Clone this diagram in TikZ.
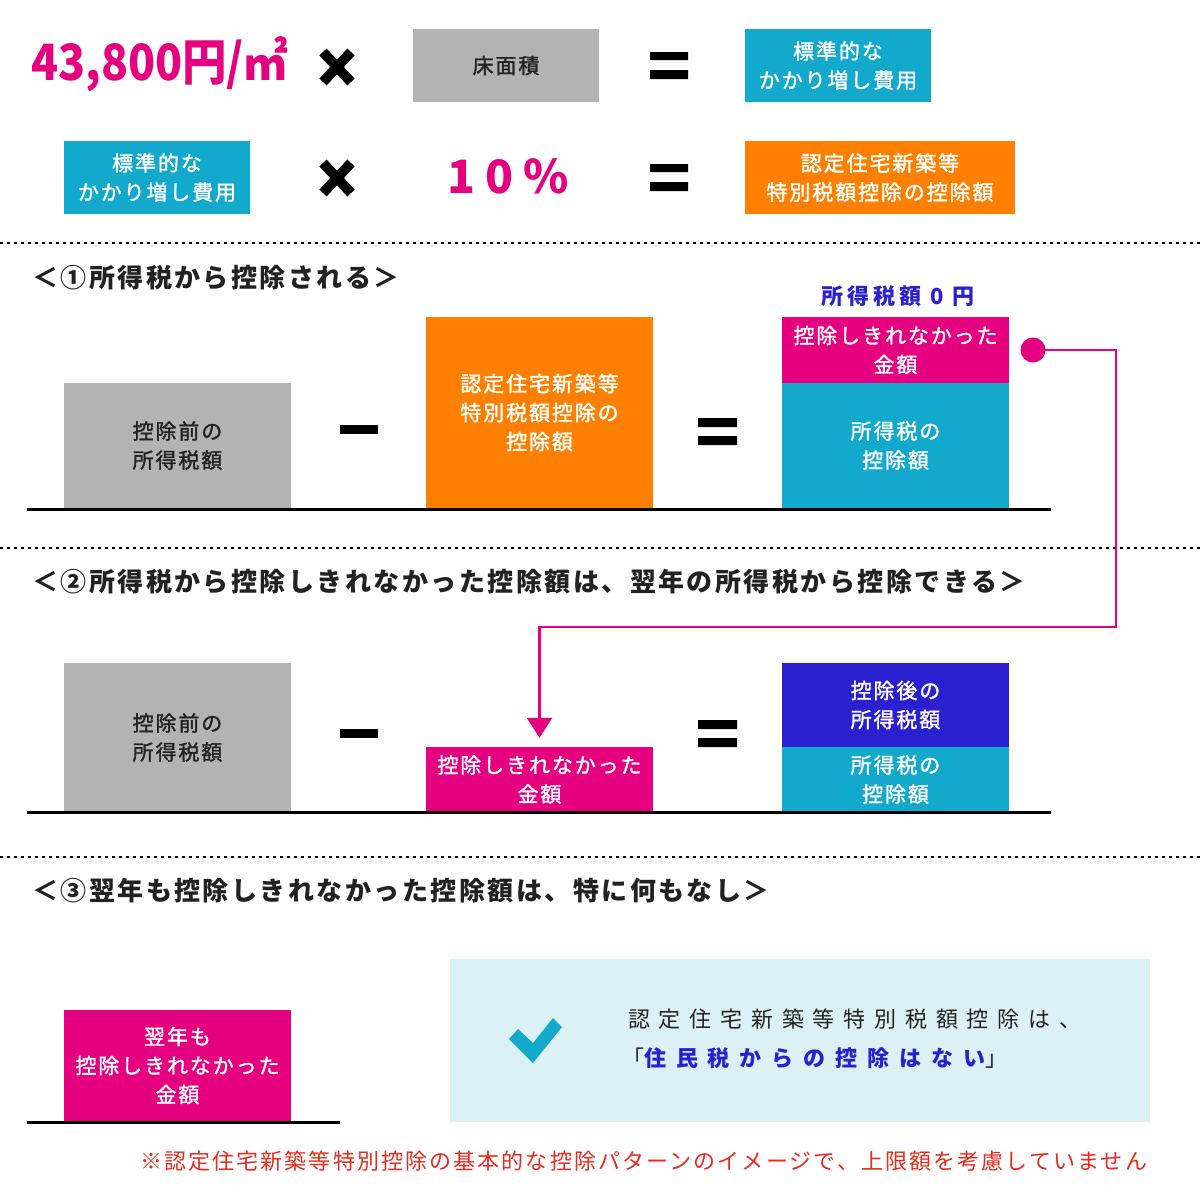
\documentclass[tikz,border=0pt]{standalone}
\usepackage{fontspec}
\usepackage{graphicx}
\setmainfont{Noto Sans CJK JP}
\newfontfamily\jpA[LetterSpace=9,UprightFeatures={FakeBold=1.5}]{Noto Sans CJK JP}
\newfontfamily\jpZ[LetterSpace=22]{Noto Sans CJK JP}
\newfontfamily\jpP[LetterSpace=18]{Noto Sans CJK JP}
\newfontfamily\jpB[LetterSpace=40]{Noto Sans CJK JP}
\newfontfamily\jpD[LetterSpace=45]{Noto Sans CJK JP}
\newfontfamily\jpC[LetterSpace=9.5]{Noto Sans CJK JP}
\newfontfamily\jpF[LetterSpace=9.6]{Noto Sans CJK JP}
\usetikzlibrary{arrows.meta}
\definecolor{mag}{HTML}{E4007F}
\definecolor{cy}{HTML}{12A9CC}
\definecolor{org}{HTML}{FF8000}
\definecolor{gr}{HTML}{B3B3B3}
\definecolor{bl}{HTML}{2B20D0}
\definecolor{lb}{HTML}{DCF1F6}
\definecolor{dk}{HTML}{222222}
\definecolor{rd}{HTML}{EA2A1E}
\tikzset{
  box/.style={inner sep=0pt,draw=none,align=center,text=white,
    font=\jpA\fontsize{21}{29}\selectfont},
  graybox/.style={box,fill=gr,text=dk},
  bar/.style={fill=black,draw=none},
  title/.style={anchor=west,inner sep=0pt,text=dk,font=\jpC\bfseries\fontsize{26}{30}\selectfont},
  baseline/.style={line width=3pt,black},
  sep/.style={line width=2.5pt,dash pattern=on 2.5pt off 4.5pt,black},
  flow/.style={line width=2.5pt,mag}
}
\begin{document}
\begin{tikzpicture}[x=1pt,y=-1pt]
\useasboundingbox (0,0) rectangle (1200,1200);
\fill[white] (0,0) rectangle (1200,1200);

% formula row 1
\node[anchor=west,inner sep=0pt,text=mag,font=\bfseries\fontsize{50}{50}\selectfont] (price) at (31,64) {\scalebox{0.89}[1]{43,800円/㎡}};
\draw[line width=10pt] (323,52) -- (351,82) (351,52) -- (323,82);
\node[graybox,minimum width=186pt,minimum height=73pt] (floor) at (506,65.5) {床面積};
\fill[bar] (650,52) rectangle (688,60) (650,70) rectangle (688,79);
\node[box,fill=cy,minimum width=186pt,minimum height=73pt] (std1) at (838,65.5) {標準的な\\かかり増し費用};

% formula row 2
\node[box,fill=cy,minimum width=186pt,minimum height=73pt] (std2) at (157,177.5) {標準的な\\かかり増し費用};
\draw[line width=10pt] (323,163) -- (351,193) (351,163) -- (323,193);
\node[inner sep=0pt,text=mag,font=\jpZ\bfseries\fontsize{46}{46}\selectfont] (pct) at (508,176) {10\%};
\fill[bar] (650,164) rectangle (688,172) (650,182) rectangle (688,191);
\node[box,fill=org,minimum width=270pt,minimum height=73pt] (cert) at (880,177.5) {認定住宅新築等\\特別税額控除の控除額};

\draw[sep] (0,243) -- (1200,243);

% section 1
\node[title] (t1) at (32,278) {＜①所得税から控除される＞};
\node[graybox,minimum width=227pt,minimum height=125pt] (g1) at (177.5,445.5) {控除前の\\所得税額};
\fill[bar] (340,425) rectangle (378,434);
\node[box,fill=org,minimum width=227pt,minimum height=191pt] (o1) at (539.5,412.5) {認定住宅新築等\\特別税額控除の\\控除額};
\fill[bar] (698,418) rectangle (737,427) (698,436) rectangle (737,445);
\node[box,fill=mag,minimum width=227pt,minimum height=66pt] (m1) at (895.5,350) {控除しきれなかった\\金額};
\node[box,fill=cy,minimum width=227pt,minimum height=125pt] (c1) at (895.5,445.5) {所得税の\\控除額};
\node[inner sep=0pt,text=bl,font=\jpP\bfseries\fontsize{22}{24}\selectfont] (zero) at (898,296) {所得税額 0 円};
\draw[baseline] (27,509) -- (1051,509);

\draw[sep] (0,548) -- (1200,548);

% section 2
\node[title] (t2) at (32,582) {＜②所得税から控除しきれなかった控除額は、翌年の所得税から控除できる＞};
\node[graybox,minimum width=227pt,minimum height=149pt] (g2) at (177.5,737.5) {控除前の\\所得税額};
\fill[bar] (340,729) rectangle (378,738);
\node[box,fill=mag,minimum width=227pt,minimum height=65pt] (m2) at (539.5,779.5) {控除しきれなかった\\金額};
\fill[bar] (698,720) rectangle (737,729) (698,738) rectangle (737,747);
\node[box,fill=bl,minimum width=227pt,minimum height=84pt] (b2) at (895.5,705) {控除後の\\所得税額};
\node[box,fill=cy,minimum width=227pt,minimum height=65pt] (c2) at (895.5,779.5) {所得税の\\控除額};
\draw[baseline] (27,812) -- (1051,812);

% connector
\node[circle,fill=mag,inner sep=0pt,minimum size=25pt] (dot) at (1033,350) {};
\coordinate (k1) at (1116,350);
\coordinate (k2) at (1116,627);
\draw[flow,-{Triangle[width=25pt,length=20pt]},shorten >=9pt] (dot.center) -- (k1) -- (k2) -| (m2.north);

\draw[sep] (0,857) -- (1200,857);

% section 3
\node[title] (t3) at (32,891) {＜③翌年も控除しきれなかった控除額は、特に何もなし＞};
\node[box,fill=mag,minimum width=227pt,minimum height=111pt] (m3) at (177.5,1065.5) {翌年も\\控除しきれなかった\\金額};
\draw[baseline] (27,1122) -- (340,1122);
\node[fill=lb,inner sep=0pt,minimum width=700pt,minimum height=163pt] (note) at (800,1040.5) {};
\fill[cy] (509,1039) -- (518,1029) -- (533,1043) -- (553,1018) -- (562,1027) -- (533,1063) -- cycle;
\node[anchor=west,inner sep=0pt,text=dk,font=\jpB\fontsize{22}{24}\selectfont] (n1) at (628,1019) {認定住宅新築等特別税額控除は、};
\node[anchor=west,inner sep=0pt,text=dk,font=\jpD\fontsize{22}{24}\selectfont] (n2) at (622,1058) {「\textcolor{bl}{\bfseries 住民税からの控除はない}」};

\node[anchor=west,inner sep=0pt,text=rd,font=\jpF\fontsize{22}{24}\selectfont] (foot) at (140,1161) {※認定住宅新築等特別控除の基本的な控除パターンのイメージで、上限額を考慮していません};
\end{tikzpicture}
\end{document}
